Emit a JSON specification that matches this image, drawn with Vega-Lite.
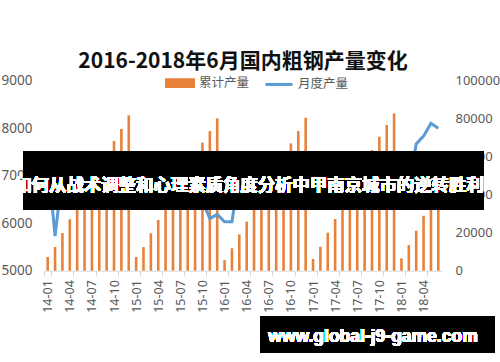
{
  "$schema": "https://vega.github.io/schema/vega-lite/v6.json",
  "width": 398,
  "height": 190,
  "autosize": {"type": "none"},
  "padding": {"left": 44, "top": 80.7, "right": 58, "bottom": 91.3},
  "background": "white",
  "title": {
    "text": "2016-2018年6月国内粗钢产量变化",
    "font": "Noto Sans CJK SC",
    "fontSize": 21,
    "fontWeight": "bold",
    "color": "#111111",
    "anchor": "middle",
    "offset": 0,
    "dy": 4
  },
  "config": {
    "view": {"stroke": null},
    "axis": {"grid": false, "labelFont": "Noto Sans", "labelColor": "#595959"}
  },
  "data": {
    "values": [
      {"m": "14-01", "cum": 7200, "mon": 7380},
      {"m": "14-02", "cum": 12500, "mon": 5730},
      {"m": "14-03", "cum": 19800, "mon": 7055},
      {"m": "14-04", "cum": 27100, "mon": 6975},
      {"m": "14-05", "cum": 34000, "mon": 7192},
      {"m": "14-06", "cum": 41000, "mon": 7041},
      {"m": "14-07", "cum": 47900, "mon": 6803},
      {"m": "14-08", "cum": 54700, "mon": 6798},
      {"m": "14-09", "cum": 61400, "mon": 6796},
      {"m": "14-10", "cum": 68300, "mon": 6836},
      {"m": "14-11", "cum": 74600, "mon": 6350},
      {"m": "14-12", "cum": 81800, "mon": 6758},
      {"m": "15-01", "cum": 7200, "mon": 7230},
      {"m": "15-02", "cum": 12400, "mon": 6450},
      {"m": "15-03", "cum": 19700, "mon": 7079},
      {"m": "15-04", "cum": 26700, "mon": 6869},
      {"m": "15-05", "cum": 33400, "mon": 6998},
      {"m": "15-06", "cum": 40400, "mon": 6894},
      {"m": "15-07", "cum": 47100, "mon": 6583},
      {"m": "15-08", "cum": 54000, "mon": 6640},
      {"m": "15-09", "cum": 60500, "mon": 6617},
      {"m": "15-10", "cum": 67400, "mon": 6474},
      {"m": "15-11", "cum": 73500, "mon": 6097},
      {"m": "15-12", "cum": 80200, "mon": 6186},
      {"m": "16-01", "cum": 5550, "mon": 6030},
      {"m": "16-02", "cum": 11800, "mon": 6030},
      {"m": "16-03", "cum": 19100, "mon": 7065},
      {"m": "16-04", "cum": 25800, "mon": 6938},
      {"m": "16-05", "cum": 32500, "mon": 6970},
      {"m": "16-06", "cum": 39700, "mon": 6911},
      {"m": "16-07", "cum": 46700, "mon": 6645},
      {"m": "16-08", "cum": 53800, "mon": 6728},
      {"m": "16-09", "cum": 60400, "mon": 6787},
      {"m": "16-10", "cum": 67000, "mon": 6757},
      {"m": "16-11", "cum": 73500, "mon": 6700},
      {"m": "16-12", "cum": 80500, "mon": 6500},
      {"m": "17-01", "cum": 6150, "mon": 6450},
      {"m": "17-02", "cum": 12600, "mon": 6450},
      {"m": "17-03", "cum": 20000, "mon": 7200},
      {"m": "17-04", "cum": 27200, "mon": 7278},
      {"m": "17-05", "cum": 34200, "mon": 7320},
      {"m": "17-06", "cum": 41000, "mon": 7323},
      {"m": "17-07", "cum": 48600, "mon": 7402},
      {"m": "17-08", "cum": 56500, "mon": 7459},
      {"m": "17-09", "cum": 63500, "mon": 7170},
      {"m": "17-10", "cum": 70500, "mon": 7199},
      {"m": "17-11", "cum": 76700, "mon": 6625},
      {"m": "17-12", "cum": 82800, "mon": 6399},
      {"m": "18-01", "cum": 6500, "mon": 6700},
      {"m": "18-02", "cum": 13500, "mon": 6700},
      {"m": "18-03", "cum": 21000, "mon": 7669},
      {"m": "18-04", "cum": 28900, "mon": 7833},
      {"m": "18-05", "cum": 36800, "mon": 8100},
      {"m": "18-06", "cum": 44700, "mon": 8000}
    ]
  },
  "encoding": {
    "x": {
      "field": "m",
      "type": "ordinal",
      "sort": null,
      "scale": {"type": "band", "paddingInner": 0, "paddingOuter": 0},
      "axis": {
        "title": null,
        "values": ["14-01","14-04","14-07","14-10","15-01","15-04","15-07","15-10","16-01","16-04","16-07","16-10","17-01","17-04","17-07","17-10","18-01","18-04"],
        "labelAngle": -90,
        "labelAlign": "right",
        "labelBaseline": "middle",
        "labelFontSize": 12.5,
        "labelPadding": 4,
        "tickBand": "extent",
        "tickSize": 5,
        "tickColor": "#d9d9d9",
        "domainColor": "#d9d9d9"
      }
    }
  },
  "layer": [
    {
      "mark": {"type": "bar", "size": 2.6},
      "encoding": {
        "y": {
          "field": "cum",
          "type": "quantitative",
          "scale": {"domain": [0, 100000], "nice": false},
          "axis": {
            "orient": "right",
            "title": null,
            "values": [0, 20000, 40000, 60000, 80000, 100000],
            "format": "d",
            "domain": false,
            "ticks": false,
            "labelPadding": 13,
            "labelFontSize": 13
          }
        },
        "color": {
          "datum": "累计产量",
          "scale": {"domain": ["累计产量", "月度产量"], "range": ["#E8823A", "#5B9BD5"]},
          "legend": {
            "title": null,
            "orient": "none",
            "direction": "horizontal",
            "legendX": 121,
            "legendY": -13,
            "padding": 0,
            "labelFont": "Noto Sans CJK SC",
            "labelFontSize": 12.5,
            "labelColor": "#595959",
            "labelOffset": 4,
            "columnPadding": 9,
            "symbolSize": 729,
            "encode": {
              "symbols": {
                "update": {
                  "shape": {"signal": "datum.value === '累计产量' ? 'M-1,-0.25H1V0.25H-1Z' : 'M-1,0H1'"},
                  "fill": {"signal": "datum.value === '累计产量' ? '#E8823A' : 'transparent'"},
                  "stroke": {"signal": "datum.value === '累计产量' ? 'transparent' : '#5B9BD5'"},
                  "strokeWidth": {"value": 3},
                  "opacity": {"value": 1}
                }
              }
            }
          }
        }
      }
    },
    {
      "mark": {"type": "line", "strokeWidth": 3},
      "encoding": {
        "y": {
          "field": "mon",
          "type": "quantitative",
          "scale": {"domain": [5000, 9000], "nice": false, "zero": false},
          "axis": {
            "orient": "left",
            "title": null,
            "values": [5000, 6000, 7000, 8000, 9000],
            "format": "d",
            "domain": false,
            "ticks": false,
            "labelPadding": 12,
            "labelFontSize": 13.5
          }
        },
        "color": {"datum": "月度产量"}
      }
    },
    {
      "mark": {"type": "rect", "fill": "#000000", "opacity": 0.67, "xOffset": -24, "x2Offset": 45.4},
      "encoding": {
        "x": {"datum": "14-01"},
        "x2": {"datum": "18-06"},
        "y": {"datum": 7510, "type": "quantitative", "scale": {"domain": [5000, 9000], "nice": false, "zero": false}, "axis": null},
        "y2": {"datum": 6280}
      }
    },
    {
      "mark": {"type": "text", "font": "Noto Sans CJK SC", "fontSize": 17.4, "fontWeight": "bold", "color": "white", "align": "center", "baseline": "middle", "dx": 6},
      "encoding": {
        "x": null,
        "y": {"datum": 6790, "type": "quantitative", "scale": {"domain": [5000, 9000], "nice": false, "zero": false}, "axis": null},
        "text": {"datum": "如何从战术调整和心理素质角度分析中甲南京城市的逆转胜利"}
      }
    },
    {
      "mark": {"type": "rect", "fill": "#000000", "xOffset": -1, "x2Offset": 56},
      "encoding": {
        "x": {"datum": "16-06"},
        "x2": {"datum": "18-06"},
        "y": {"datum": 4044, "type": "quantitative", "scale": {"domain": [5000, 9000], "nice": false, "zero": false}, "axis": null},
        "y2": {"datum": 3270}
      }
    },
    {
      "mark": {"type": "text", "font": "Liberation Sans", "fontSize": 17.5, "fontWeight": "bold", "color": "white", "align": "center", "baseline": "middle", "dx": 130},
      "encoding": {
        "x": null,
        "y": {"datum": 3608, "type": "quantitative", "scale": {"domain": [5000, 9000], "nice": false, "zero": false}, "axis": null},
        "text": {"datum": "www.global-j9-game.com"}
      }
    }
  ],
  "resolve": {"scale": {"y": "independent"}}
}
